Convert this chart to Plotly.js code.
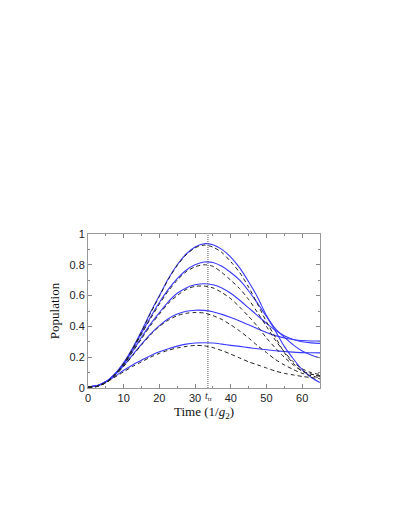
<!DOCTYPE html>
<html>
<head>
<meta charset="utf-8">
<script src="https://cdn.plot.ly/plotly-3.0.1.min.js"></script>
<style>
  html, body { margin: 0; padding: 0; background: #fff; }
  #plot { width: 409px; height: 529px; }
</style>
</head>
<body>
<div id="plot"></div>
<script>
// Time grid (units of 1/g2)
const time = [0, 2.5, 5, 7.5, 10, 12.5, 15, 17.5, 20, 22.5, 25, 27.5, 30, 32.5,
  35, 37.5, 40, 42.5, 45, 47.5, 50, 52.5, 55, 57.5, 60, 62.5, 65];

// Solid blue curves
const blue1 = [0.01, 0.015, 0.04, 0.09, 0.165, 0.26, 0.37, 0.49, 0.60, 0.71, 0.80, 0.87, 0.915, 0.937,
  0.93, 0.90, 0.85, 0.78, 0.69, 0.59, 0.47, 0.37, 0.27, 0.19, 0.12, 0.07, 0.035];
const blue2 = [0.01, 0.015, 0.04, 0.09, 0.16, 0.255, 0.355, 0.46, 0.555, 0.64, 0.71, 0.765, 0.80, 0.818,
  0.815, 0.79, 0.75, 0.70, 0.63, 0.55, 0.465, 0.385, 0.33, 0.28, 0.24, 0.215, 0.196];
const blue3 = [0.01, 0.015, 0.04, 0.09, 0.155, 0.24, 0.33, 0.415, 0.49, 0.56, 0.615, 0.65, 0.67, 0.677,
  0.67, 0.65, 0.615, 0.57, 0.52, 0.47, 0.42, 0.375, 0.34, 0.315, 0.30, 0.293, 0.29];
const blue4 = [0.01, 0.015, 0.04, 0.085, 0.145, 0.215, 0.285, 0.35, 0.405, 0.45, 0.48, 0.498, 0.505, 0.504,
  0.495, 0.478, 0.458, 0.435, 0.41, 0.385, 0.36, 0.34, 0.325, 0.315, 0.308, 0.305, 0.305];
const blue5 = [0.01, 0.015, 0.04, 0.075, 0.115, 0.15, 0.18, 0.21, 0.235, 0.255, 0.272, 0.285, 0.292, 0.294,
  0.292, 0.285, 0.277, 0.27, 0.262, 0.255, 0.248, 0.242, 0.237, 0.233, 0.23, 0.229, 0.228];

// Dashed black curves
const dash1 = [0.005, 0.01, 0.035, 0.085, 0.16, 0.255, 0.365, 0.485, 0.595, 0.705, 0.795, 0.865, 0.91, 0.928,
  0.915, 0.88, 0.82, 0.75, 0.655, 0.545, 0.43, 0.33, 0.23, 0.16, 0.11, 0.09, 0.08];
const dash2 = [0.005, 0.01, 0.035, 0.085, 0.155, 0.25, 0.35, 0.45, 0.545, 0.63, 0.70, 0.755, 0.787, 0.80,
  0.79, 0.75, 0.70, 0.645, 0.575, 0.49, 0.40, 0.31, 0.235, 0.17, 0.125, 0.10, 0.088];
const dash3 = [0.005, 0.01, 0.035, 0.085, 0.15, 0.235, 0.32, 0.405, 0.48, 0.55, 0.60, 0.64, 0.66, 0.662,
  0.65, 0.62, 0.58, 0.525, 0.465, 0.40, 0.325, 0.26, 0.20, 0.15, 0.11, 0.09, 0.075];
const dash4 = [0.005, 0.01, 0.035, 0.08, 0.14, 0.21, 0.28, 0.345, 0.40, 0.44, 0.47, 0.485, 0.49, 0.487,
  0.47, 0.445, 0.41, 0.37, 0.325, 0.275, 0.23, 0.185, 0.15, 0.12, 0.095, 0.08, 0.065];
const dash5 = [0.005, 0.01, 0.035, 0.07, 0.105, 0.14, 0.17, 0.20, 0.225, 0.245, 0.26, 0.27, 0.276, 0.274,
  0.262, 0.243, 0.22, 0.195, 0.17, 0.15, 0.13, 0.11, 0.095, 0.085, 0.075, 0.068, 0.06];

// Marked transfer time
const tTr = 33.6;

const xTicks = [0, 10, 20, 30, 40, 50, 60];
const yTicks = [0, 0.2, 0.4, 0.6, 0.8, 1];
const yTickText = ['0', '0.2', '0.4', '0.6', '0.8', '1'];

const blueSeries = [blue1, blue2, blue3, blue4, blue5];
const dashSeries = [dash1, dash2, dash3, dash4, dash5];

const serif = "'Liberation Serif', 'Times New Roman', serif";
const sans = "'Liberation Sans', Arial, sans-serif";

const data = [
  ...blueSeries.map(y => ({
    x: time, y,
    mode: 'lines', type: 'scatter',
    line: { color: '#3a3aff', width: 1.1, shape: 'spline', smoothing: 0.8 },
    showlegend: false, hoverinfo: 'skip',
  })),
  ...dashSeries.map(y => ({
    x: time, y,
    mode: 'lines', type: 'scatter',
    line: { color: '#222', width: 1, dash: '4px,3px', shape: 'spline', smoothing: 0.8 },
    showlegend: false, hoverinfo: 'skip',
  })),
];

const axisCommon = {
  showgrid: false,
  zeroline: false,
  showline: true,
  linecolor: '#999',
  linewidth: 1,
  mirror: 'ticks',
  ticks: 'inside',
  ticklen: 4,
  tickcolor: '#888',
  tickwidth: 1,
  tickfont: { family: sans, size: 11, color: '#222' },
};

const layout = {
  width: 409,
  height: 529,
  margin: { l: 88, r: 89, t: 234, b: 141 },
  plot_bgcolor: '#FFFFFF',
  paper_bgcolor: '#FFFFFF',
  xaxis: {
    ...axisCommon,
    range: [0, 65],
    tickvals: xTicks,
    ticktext: xTicks.map(String),
    minor: { dtick: 5, ticks: 'inside', ticklen: 2, tickcolor: '#888' },
    title: {
      text: 'Time (1/<i>g</i><sub>2</sub>)',
      font: { family: serif, size: 13, color: '#111' },
      standoff: 3,
    },
  },
  yaxis: {
    ...axisCommon,
    range: [0, 1],
    tickvals: yTicks,
    ticktext: yTickText,
    minor: { dtick: 0.1, ticks: 'inside', ticklen: 2, tickcolor: '#888' },
    title: {
      text: 'Population',
      font: { family: serif, size: 13, color: '#111' },
      standoff: 6,
    },
  },
  shapes: [{
    type: 'line', xref: 'x', yref: 'paper',
    x0: tTr, x1: tTr, y0: 0, y1: 1,
    line: { color: '#555', width: 1, dash: '1px,1px' },
  }],
  annotations: [{
    x: tTr, y: 0, xref: 'x', yref: 'paper',
    yanchor: 'top', yshift: 0, xshift: 1,
    text: '<i>t</i><sub>tr</sub>',
    showarrow: false,
    font: { family: serif, size: 10, color: '#222' },
  }],
};

Plotly.newPlot('plot', data, layout, { staticPlot: true, displayModeBar: false });
</script>
</body>
</html>
